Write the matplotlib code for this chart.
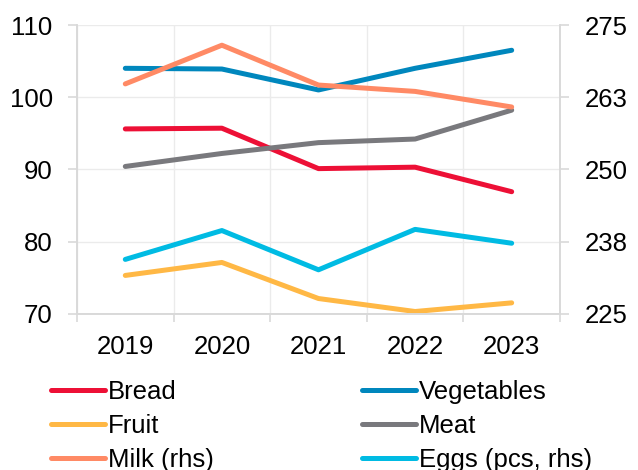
import matplotlib
matplotlib.use("Agg")
import matplotlib.pyplot as plt
from matplotlib.ticker import FixedLocator

plt.rcParams['font.family'] = ['Liberation Sans', 'DejaVu Sans']

# data
years = ['2019', '2020', '2021', '2022', '2023']
bread = [95.6, 95.7, 90.1, 90.3, 86.9]
vegetables = [104.0, 103.9, 101.0, 104.0, 106.5]
fruit = [75.3, 77.1, 72.1, 70.3, 71.5]
meat = [90.4, 92.2, 93.7, 94.2, 98.2]
milk_rhs = [264.8, 271.5, 264.6, 263.5, 260.8]
eggs_rhs = [234.4, 239.4, 232.6, 239.6, 237.2]

lhs_ticks = [70, 80, 90, 100, 110]
rhs_ticks = [225, 237.5, 250, 262.5, 275]
rhs_labels = ['225', '238', '250', '263', '275']

colors = {'Bread': '#ED1036', 'Vegetables': '#0087BD', 'Fruit': '#FFB845',
          'Meat': '#79797D', 'Milk (rhs)': '#FF8A65', 'Eggs (pcs, rhs)': '#00BBE3'}

fs = 18.5

fig = plt.figure(figsize=(6.38, 4.70), dpi=100)
ax = fig.add_axes([0.1207, 0.3326, 0.757, 0.6142])
ax2 = ax.twinx()

x = range(len(years))
lw = 3.6
kw = dict(lw=lw, solid_capstyle='round', solid_joinstyle='round')
l_bread, = ax.plot(x, bread, color=colors['Bread'], label='Bread', **kw)
l_veg, = ax.plot(x, vegetables, color=colors['Vegetables'], label='Vegetables', **kw)
l_fruit, = ax.plot(x, fruit, color=colors['Fruit'], label='Fruit', **kw)
l_meat, = ax.plot(x, meat, color=colors['Meat'], label='Meat', **kw)
l_milk, = ax2.plot(x, milk_rhs, color=colors['Milk (rhs)'], label='Milk (rhs)', **kw)
l_eggs, = ax2.plot(x, eggs_rhs, color=colors['Eggs (pcs, rhs)'], label='Eggs (pcs, rhs)', **kw)

ax.set_xlim(-0.5, len(years) - 0.5)
ax.set_ylim(70, 110)
ax2.set_ylim(225, 275)
ax.set_yticks(lhs_ticks)
ax2.set_yticks(rhs_ticks)
ax2.set_yticklabels(rhs_labels)
ax.set_xticks(list(x))
ax.set_xticklabels(years)
ax.xaxis.set_minor_locator(FixedLocator([i - 0.5 for i in range(len(years) + 1)]))

grid_c = '#EBEBEB'
spine_c = '#D9D9D9'
ax.grid(axis='y', color=grid_c, lw=1)
ax.grid(axis='x', which='minor', color=grid_c, lw=1)
ax.set_axisbelow(True)
for a in (ax, ax2):
    for s in a.spines.values():
        s.set_color(spine_c)
        s.set_linewidth(1.2)
    a.spines['top'].set_visible(False)
ax.tick_params(axis='x', which='major', length=0, labelsize=fs, pad=15)
ax.tick_params(axis='x', which='minor', length=6, color=spine_c, width=1.2)
ax.tick_params(axis='y', length=6.5, color=spine_c, width=1.2, labelsize=fs, pad=11)
ax2.tick_params(axis='y', length=6.5, color=spine_c, width=1.2, labelsize=fs, pad=11)

# column-first fill: left column Bread/Fruit/Milk, right column Vegetables/Meat/Eggs
handles = [l_bread, l_fruit, l_milk, l_veg, l_meat, l_eggs]
fig.legend(handles=handles, loc='upper left', bbox_to_anchor=(0.08, 0.192),
           ncol=2, frameon=False, fontsize=fs, handlelength=2.1,
           handletextpad=0.12, columnspacing=5.76, labelspacing=0.4,
           borderpad=0, borderaxespad=0)

fig.savefig('out.png', dpi=100)
